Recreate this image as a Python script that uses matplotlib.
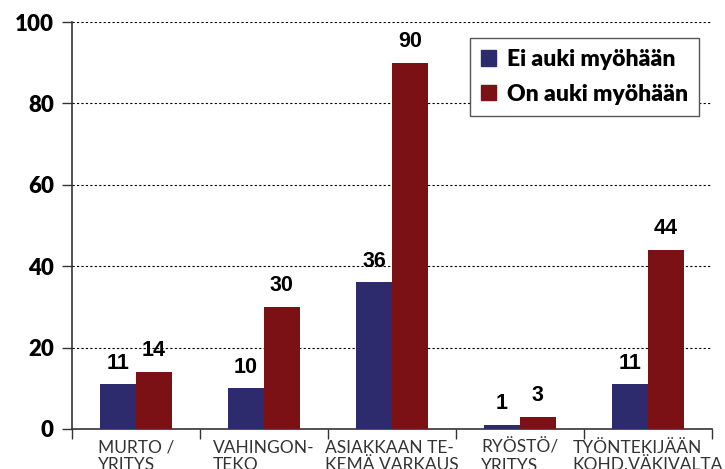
import matplotlib.pyplot as plt
import numpy as np
from matplotlib.patches import Patch

categories = ["MURTO /\nYRITYS", "VAHINGON-\nTEKO", "ASIAKKAAN TE-\nKEMÄ VARKAUS",
              "RYÖSTÖ/\nYRITYS", "TYÖNTEKIJÄÄN\nKOHD.VÄKIVALTA"]
ei_auki = [11, 10, 36, 1, 11]
on_auki = [14, 30, 90, 3, 44]
series_names = ["Ei auki myöhään", "On auki myöhään"]

blue = "#2e2a6e"
red = "#7b1115"

fig = plt.figure(figsize=(7.25, 4.69), dpi=100)
ax = fig.add_axes([0.0993, 0.0853, 0.8827, 0.8677])

x = np.arange(len(categories))
w = 0.28
ax.bar(x - w / 2, ei_auki, w, color=blue, zorder=3)
ax.bar(x + w / 2, on_auki, w, color=red, zorder=3)

for xi, v in zip(x - w / 2, ei_auki):
    ax.text(xi, v + 2.6, str(v), ha="center", va="bottom", fontsize=15.5,
            fontweight="bold", family="Liberation Sans")
for xi, v in zip(x + w / 2, on_auki):
    ax.text(xi, v + 2.6, str(v), ha="center", va="bottom", fontsize=15.5,
            fontweight="bold", family="Liberation Sans")

ax.set_xlim(-0.5, len(categories) - 0.5)
ax.set_ylim(0, 100)
ax.set_yticks([0, 20, 40, 60, 80, 100])
ax.set_yticklabels(["0", "20", "40", "60", "80", "100"], fontsize=16,
                   fontweight="heavy", family="Lato")
ax.tick_params(axis="y", length=7, width=1, pad=6, color="#333333")
ax.set_xticks(np.arange(len(categories) + 1) - 0.5)
ax.set_xticklabels([])
ax.tick_params(axis="x", length=7, width=1, color="#333333")

for yv in [20, 40, 60, 80, 100]:
    ax.axhline(yv, color="black", linestyle=(0, (2, 2)), linewidth=0.8, zorder=1)

for s in ["top", "right"]:
    ax.spines[s].set_visible(False)
for s in ["left", "bottom"]:
    ax.spines[s].set_color("#333333")
    ax.spines[s].set_linewidth(1.2)

for xi, lab in zip(x, categories):
    ax.text(xi, -0.026, lab, transform=ax.get_xaxis_transform(), ha="center",
            va="top", multialignment="left", fontsize=12.5, family="Lato",
            color="#333333", linespacing=1.12)

handles = [Patch(color=blue), Patch(color=red)]
leg = ax.legend(handles, series_names, loc="upper right", bbox_to_anchor=(0.98, 0.962),
                prop={"family": "Lato", "weight": "heavy", "size": 16.5},
                fancybox=False, framealpha=1, edgecolor="#555555",
                handlelength=0.65, handleheight=0.65, handletextpad=0.45,
                labelspacing=0.6, borderpad=0.5, borderaxespad=0)
leg.get_frame().set_linewidth(1.0)

fig.savefig("out.png", dpi=100)
